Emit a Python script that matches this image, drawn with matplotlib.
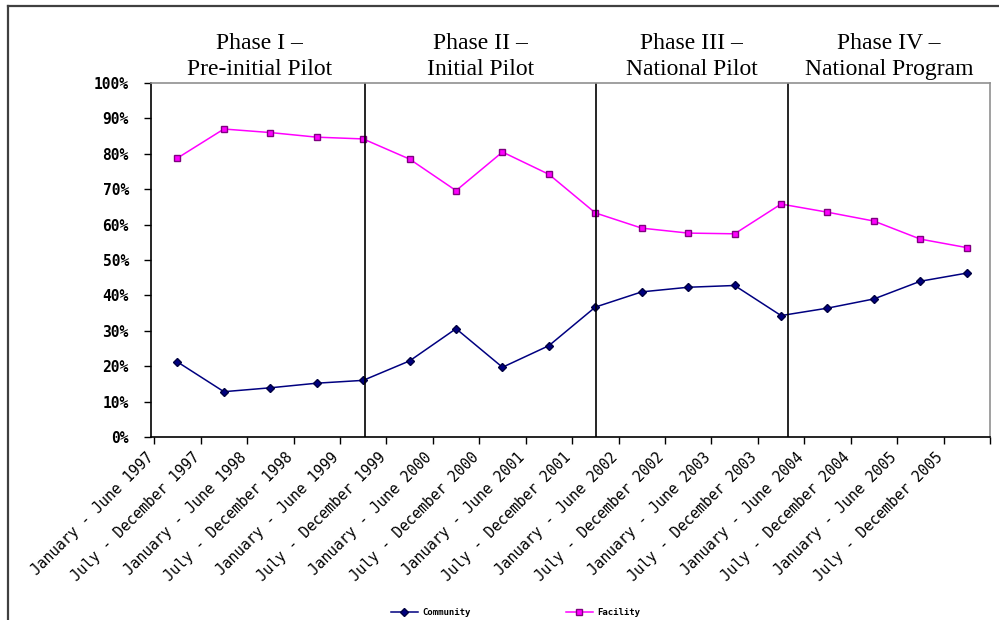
import numpy as np
import matplotlib.pyplot as plt
from matplotlib.lines import Line2D

# half-year periods
periods = [
    "January - June 1997", "July - December 1997",
    "January - June 1998", "July - December 1998",
    "January - June 1999", "July - December 1999",
    "January - June 2000", "July - December 2000",
    "January - June 2001", "July - December 2001",
    "January - June 2002", "July - December 2002",
    "January - June 2003", "July - December 2003",
    "January - June 2004", "July - December 2004",
    "January - June 2005", "July - December 2005",
]

# share of deliveries (%)
community = [21.2, 12.8, 13.9, 15.2, 16.0, 21.5, 30.6, 19.7, 25.8,
             36.7, 41.0, 42.3, 42.8, 34.3, 36.4, 39.0, 44.0, 46.3]
facility = [78.8, 87.0, 86.0, 84.7, 84.2, 78.5, 69.6, 80.5, 74.2,
            63.3, 59.0, 57.6, 57.4, 65.8, 63.5, 61.0, 55.9, 53.5]

phase_titles = ["Phase I \u2013\nPre-initial Pilot", "Phase II \u2013\nInitial Pilot",
                "Phase III \u2013\nNational Pilot", "Phase IV \u2013\nNational Program"]
phase_edges = [-0.5, 4.03, 9.01, 13.15, 17.5]

TICK_FONT = "DejaVu Sans Mono"

fig = plt.figure(figsize=(9.99, 6.2), dpi=100)
ax = fig.add_axes([151 / 999, 183 / 620, 839 / 999, 354 / 620])

x = np.arange(len(periods))
ax.plot(x, community, color="#000080", lw=1.1, marker="D", ms=4,
        mec="#000040", label="Community")
ax.plot(x, facility, color="#FF00FF", lw=1.1, marker="s", ms=4,
        mec="#800080", label="Facility")

# phase separators and titles
for edge in phase_edges[1:-1]:
    ax.axvline(edge, color="black", lw=1.2)
for i, title in enumerate(phase_titles):
    mid = (phase_edges[i] + phase_edges[i + 1]) / 2
    ax.annotate(title, xy=(mid, 1.0), xycoords=("data", "axes fraction"),
                xytext=(0, 2), textcoords="offset points", ha="center",
                va="bottom", family="Liberation Serif", fontsize=17,
                linespacing=1.3)

ax.set_xlim(-0.5, len(periods) - 0.5)
ax.set_ylim(0, 100)

ax.set_yticks(np.arange(0, 101, 10))
ax.set_yticklabels([f"{v}%" for v in range(0, 101, 10)],
                   family=TICK_FONT, fontsize=10.5, fontweight="bold")
ax.tick_params(axis="y", length=5, width=1, pad=11)

ax.set_xticks(np.arange(len(periods) + 1) - 0.5)
ax.set_xticklabels([])
ax.tick_params(axis="x", which="major", length=5, width=1)
ax.set_xticks(x - 0.57, periods, minor=True)
ax.tick_params(axis="x", which="minor", length=0, pad=13)
for lab in ax.get_xticklabels(minor=True):
    lab.set_rotation(45)
    lab.set_ha("right")
    lab.set_va("center")
    lab.set_rotation_mode("anchor")
    lab.set_family(TICK_FONT)
    lab.set_fontsize(10.5)

for side in ["left", "bottom"]:
    ax.spines[side].set_color("black")
    ax.spines[side].set_linewidth(1.2)
for side in ["top", "right"]:
    ax.spines[side].set_color("#909090")
    ax.spines[side].set_linewidth(1.2)

fig.legend(loc="lower center", bbox_to_anchor=(0.516, -0.009), ncol=2,
           frameon=False, handlelength=3.0, handletextpad=0.5,
           columnspacing=10.5,
           prop={"family": TICK_FONT, "size": 6.5, "weight": "bold"})

# outer frame (only top and left edges fall inside the picture)
frame_x, frame_y = 8 / 999, 1 - 6 / 620
fig.add_artist(Line2D([frame_x, 1.0], [frame_y, frame_y],
                      transform=fig.transFigure, color="#404040", lw=1.6))
fig.add_artist(Line2D([frame_x, frame_x], [0.0, frame_y],
                      transform=fig.transFigure, color="#404040", lw=1.6))

fig.savefig("out.png", dpi=100)
